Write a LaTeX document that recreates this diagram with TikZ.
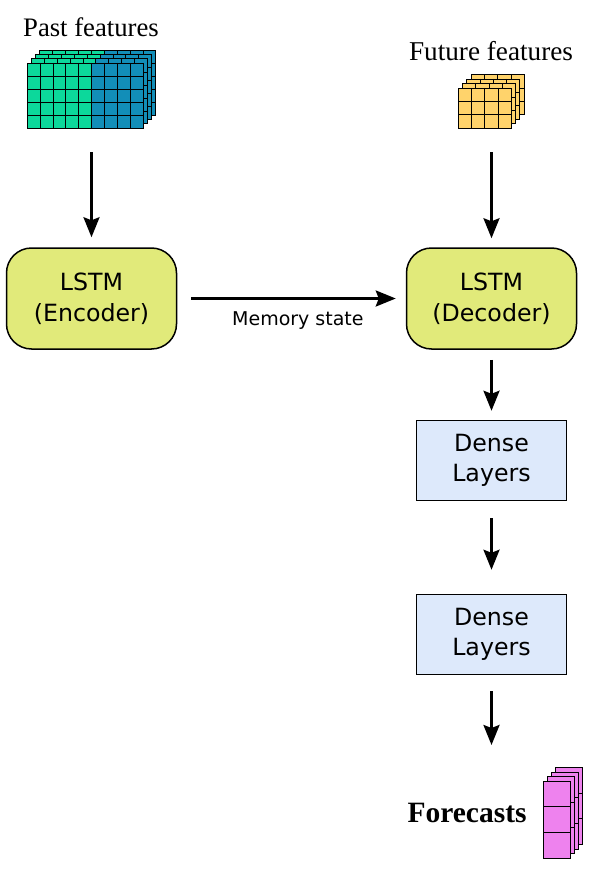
\documentclass[tikz,border=0pt]{standalone}
\usepackage{fontspec}
\setmainfont{Liberation Serif}
\setsansfont{DejaVu Sans}
\usetikzlibrary{arrows.meta,positioning}

\definecolor{pastgreen}{HTML}{0CD89B}
\definecolor{pastblue}{HTML}{128EB8}
\definecolor{futyellow}{HTML}{FFD36B}
\definecolor{fcpink}{HTML}{EE82EE}
\definecolor{lstmfill}{HTML}{E1EA7A}
\definecolor{densefill}{HTML}{DDE9FB}

\tikzset{
  lstmbox/.style={draw, line width=1.5pt, rounded corners=25pt, fill=lstmfill,
    minimum width=170pt, minimum height=101pt, align=center,
    font=\sffamily\fontsize{23.7}{31}\selectfont},
  densebox/.style={draw, line width=1.5pt, fill=densefill,
    minimum width=150pt, minimum height=80pt, align=center,
    font=\sffamily\fontsize{23.7}{30}\selectfont},
  flow/.style={-{Stealth[length=20pt,width=16pt,inset=3pt]}, line width=2.6pt},
  cell/.style={line width=.5pt},
  layer/.style={line width=.8pt}
}

\begin{document}
\begin{tikzpicture}[x=1pt,y=-1pt]
\useasboundingbox (0,0) rectangle (610,872);
% input labels:
\node (pastlbl) at (91,27) {\fontsize{26.7}{30}\selectfont Past features};
\node (futlbl) at (491,51) {\fontsize{27.2}{30}\selectfont Future features};
% past features, back layers first:
\foreach \k in {3,2,1,0}{
\begin{scope}[shift={(4.2*\k,-4.2*\k)}]
\filldraw[layer, fill=pastgreen] (27,63) rectangle (91.5,128);
\filldraw[layer, fill=pastblue] (91.5,63) rectangle (143,128);
\foreach \i in {1,...,8} \draw[cell] (27+\i*12.9,63) -- ++(0,65);
\foreach \j in {1,...,4} \draw[cell] (27,63+\j*13) -- ++(116,0);
\end{scope}
}
\node (past) [minimum width=129pt, minimum height=77pt, inner sep=0pt] at (91.5,89.5) {};
% future features:
\foreach \k in {3,2,1,0}{
\begin{scope}[shift={(4.4*\k,-4.5*\k)}]
\filldraw[layer, fill=futyellow] (458,88) rectangle (511,128);
\foreach \i in {1,...,3} \draw[cell] (458+\i*13.25,88) -- ++(0,40);
\foreach \j in {1,2} \draw[cell] (458,88+\j*13.33) -- ++(53,0);
\end{scope}
}
\node (fut) [minimum width=66pt, minimum height=54pt, inner sep=0pt] at (491.5,101) {};
% encoder / decoder:
\node (enc) [lstmbox] at (91.5,298.5) {LSTM\\(Encoder)};
\node (dec) [lstmbox] at (491.5,298.5) {LSTM\\(Decoder)};
% dense layers:
\node (dense1) [densebox] at (491.5,460.5) {Dense\\Layers};
\node (dense2) [densebox] at (491.5,634.5) {Dense\\Layers};
% forecasts:
\foreach \k in {3,2,1,0}{
\begin{scope}[shift={(4.2*\k,-4.5*\k)}]
\filldraw[layer, fill=fcpink] (543,781) rectangle (570,858);
\foreach \j in {1,2} \draw[layer] (543,781+\j*25.67) -- ++(27,0);
\end{scope}
}
\node (fc) [minimum width=39pt, minimum height=91pt, inner sep=0pt] at (562.5,812.5) {};
\node (fclbl) [left=16pt of fc.west, anchor=east, inner sep=0pt, font=\bfseries\fontsize{29.5}{31}\selectfont] {Forecasts};
\coordinate (fcin) at (491.5,745);
% connectors:
\draw[flow, shorten <=24pt, shorten >=10pt] (past.south) -- (enc.north);
\draw[flow, shorten <=24pt, shorten >=9pt] (fut.south) -- (dec.north);
\draw[flow, shorten <=14pt, shorten >=10pt] (enc.east) -- (dec.west)
  node[pos=.528, below=9pt, font=\sffamily\fontsize{19}{22}\selectfont] {Memory state};
\draw[flow, shorten <=10pt, shorten >=9pt] (dec.south) -- (dense1.north);
\draw[flow, shorten <=17pt, shorten >=24pt] (dense1.south) -- (dense2.north);
\draw[flow, shorten <=16pt] (dense2.south) -- (fcin);
\end{tikzpicture}
\end{document}
